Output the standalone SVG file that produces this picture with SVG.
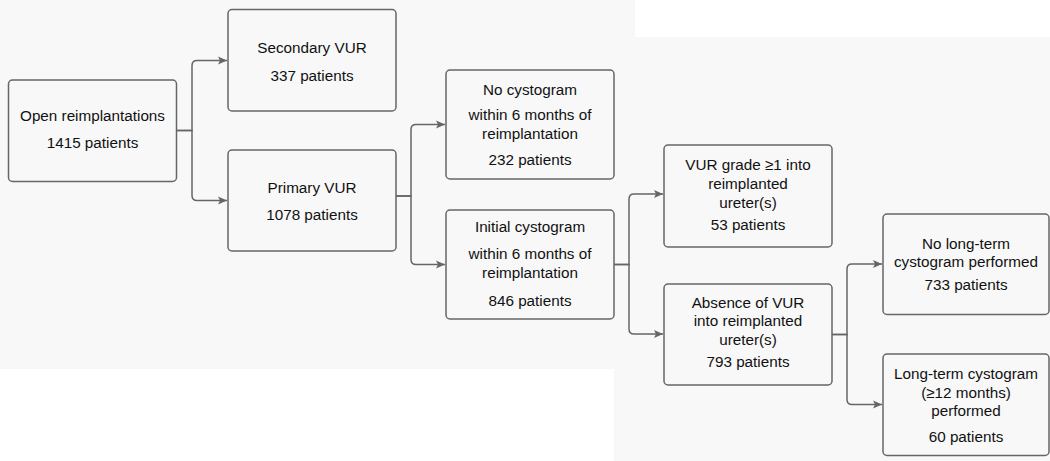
<svg xmlns="http://www.w3.org/2000/svg" width="1050" height="461" viewBox="0 0 1050 461">
<style>
.box{fill:none;stroke:#666666;stroke-width:1.5}
.t{font-family:"Liberation Sans",Arial,sans-serif;font-size:15.25px;fill:#111111;text-anchor:middle}
.c{fill:none;stroke:#666666;stroke-width:1.5}
</style>
<defs>
<marker id="ah" markerUnits="userSpaceOnUse" markerWidth="12" markerHeight="10" refX="10" refY="5" orient="auto">
<path d="M1,1 L10,5 L1,9 L3,5 Z" fill="#666666"/>
</marker>
</defs>
<rect width="1050" height="461" fill="#ffffff"/>
<polygon points="0,0 635,0 635,37 1050,37 1050,461 614,461 614,369 0,369" fill="#f8f8f8"/>
<g id="connectors">
<path class="c" d="M176.5,130.5 H192 V65.5 Q192,60.5 197,60.5 H227" marker-end="url(#ah)"/>
<path class="c" d="M176.5,130.5 H192 V195.5 Q192,200.5 197,200.5 H227" marker-end="url(#ah)"/>
<path class="c" d="M396,196 H411 V129.5 Q411,124.5 416,124.5 H445" marker-end="url(#ah)"/>
<path class="c" d="M396,196 H411 V259.5 Q411,264.5 416,264.5 H445" marker-end="url(#ah)"/>
<path class="c" d="M614,264.5 H629 V199 Q629,194 634,194 H663" marker-end="url(#ah)"/>
<path class="c" d="M614,264.5 H629 V329 Q629,334 634,334 H663" marker-end="url(#ah)"/>
<path class="c" d="M832,334.5 H847 V269 Q847,264 852,264 H882" marker-end="url(#ah)"/>
<path class="c" d="M832,334.5 H847 V399.5 Q847,404.5 852,404.5 H882" marker-end="url(#ah)"/>
</g>
<g id="open">
<rect class="box" x="8.5" y="80" width="168" height="101.5" rx="4"/>
<text class="t" x="92.5" y="121.3">Open reimplantations</text>
<text class="t" x="92.5" y="148">1415 patients</text>
</g>
<g id="secondary">
<rect class="box" x="228" y="9.5" width="168" height="101.5" rx="4"/>
<text class="t" x="312" y="53">Secondary VUR</text>
<text class="t" x="312" y="81.3">337 patients</text>
</g>
<g id="primary">
<rect class="box" x="228" y="150" width="168" height="101" rx="4"/>
<text class="t" x="312" y="192.6">Primary VUR</text>
<text class="t" x="312" y="220.3">1078 patients</text>
</g>
<g id="nocyst">
<rect class="box" x="446" y="70" width="168" height="109" rx="4"/>
<text class="t" x="530" y="94.6">No cystogram</text>
<text class="t" x="530" y="120.3">within 6 months of</text>
<text class="t" x="530" y="138.6">reimplantation</text>
<text class="t" x="530" y="164.6">232 patients</text>
</g>
<g id="initial">
<rect class="box" x="446" y="210" width="168" height="109" rx="4"/>
<text class="t" x="530" y="232">Initial cystogram</text>
<text class="t" x="530" y="259.3">within 6 months of</text>
<text class="t" x="530" y="278">reimplantation</text>
<text class="t" x="530" y="306.3">846 patients</text>
</g>
<g id="vurgrade">
<rect class="box" x="664" y="145" width="168" height="102" rx="4"/>
<text class="t" x="748" y="169.8">VUR grade ≥1 into</text>
<text class="t" x="748" y="188.6">reimplanted</text>
<text class="t" x="748" y="207.6">ureter(s)</text>
<text class="t" x="748" y="230.3">53 patients</text>
</g>
<g id="absence">
<rect class="box" x="664" y="284" width="168" height="101" rx="4"/>
<text class="t" x="748" y="307.6">Absence of VUR</text>
<text class="t" x="748" y="326">into reimplanted</text>
<text class="t" x="748" y="344.6">ureter(s)</text>
<text class="t" x="748" y="367">793 patients</text>
</g>
<g id="nolongterm">
<rect class="box" x="883" y="214" width="166" height="100.5" rx="4"/>
<text class="t" x="966" y="248.6">No long-term</text>
<text class="t" x="966" y="267">cystogram performed</text>
<text class="t" x="966" y="290.3">733 patients</text>
</g>
<g id="longterm">
<rect class="box" x="883" y="354" width="166" height="101.5" rx="4"/>
<text class="t" x="966" y="379.3">Long-term cystogram</text>
<text class="t" x="966" y="398">(≥12 months)</text>
<text class="t" x="966" y="416.3">performed</text>
<text class="t" x="966" y="442">60 patients</text>
</g>
</svg>
